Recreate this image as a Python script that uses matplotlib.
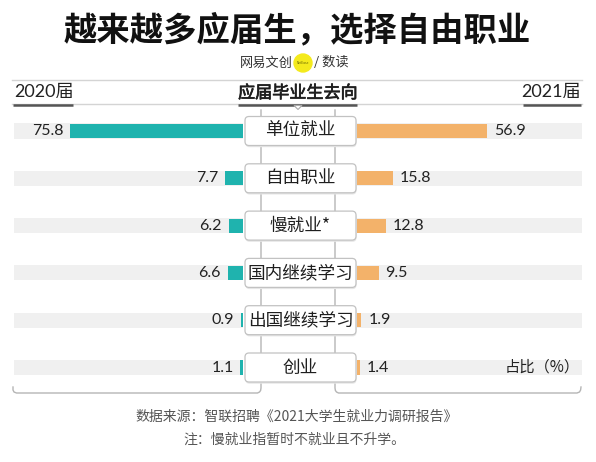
import matplotlib.pyplot as plt
import matplotlib.patheffects as pe
from matplotlib.patches import FancyBboxPatch, Circle, Polygon

plt.rcParams['font.family'] = ['Noto Sans CJK SC', 'DejaVu Sans']

# data
categories = ['单位就业', '自由职业', '慢就业*', '国内继续学习', '出国继续学习', '创业']
share_2020 = [75.8, 7.7, 6.2, 6.6, 0.9, 1.1]
share_2021 = [56.9, 15.8, 12.8, 9.5, 1.9, 1.4]

teal = '#1fb3ae'
orange = '#f3b26a'
band = '#f0f0f0'
W, H = 596, 462

# row layout in pixels
row_top, row_step = 131, 47.3
n = len(categories)
ax_top = row_top - row_step / 2
ax_h = row_step * n
px_per_unit = 2.28

fig = plt.figure(figsize=(W / 100, H / 100), dpi=100)


def frame(x0, x1):
    return [x0 / W, 1 - (ax_top + ax_h) / H, (x1 - x0) / W, ax_h / H]


# left (2020) bars, growing to the left
axl = fig.add_axes(frame(14, 243))
axl.set_xlim(229 / px_per_unit, 0)
# right (2021) bars
axr = fig.add_axes(frame(357, 582))
axr.set_xlim(0, 225 / px_per_unit)

rows = list(range(n))
for ax, vals, col, side in [(axl, share_2020, teal, -1), (axr, share_2021, orange, 1)]:
    xmax = max(ax.get_xlim())
    ax.barh(rows, [xmax] * n, height=0.32, color=band, zorder=0)
    ax.barh(rows, vals, height=0.30, color=col, zorder=1)
    for i, v in enumerate(vals):
        ax.annotate(f'{v}', (v, i), xytext=(side * 5, 0), textcoords='offset points',
                    ha='left' if side > 0 else 'right', va='center',
                    fontsize=11.5, color='#222222', family=['Lato', 'DejaVu Sans'])
    ax.set_ylim(n - 0.5, -0.5)
    ax.axis('off')

# overlay in pixel coordinates for the frame, labels and boxes
ov = fig.add_axes([0, 0, 1, 1], zorder=5)
ov.set_xlim(0, W)
ov.set_ylim(H, 0)
ov.axis('off')
ov.patch.set_alpha(0)

line_c = '#b5b5b5'
ov.plot([12, 582], [80, 80], color='#d4d4d4', lw=1)
ov.plot([12, 582], [104, 104], color='#d4d4d4', lw=1)
for x0, x1 in [(13, 73), (238, 357), (523, 581)]:
    ov.plot([x0, x1], [104.5, 104.5], color='#555555', lw=1.8, solid_capstyle='butt')
ov.add_patch(Polygon([(294, 105.5), (302, 105.5), (298, 109.5)], closed=True,
                     fc='white', ec='#aaaaaa', lw=0.8, zorder=3))

# connector lines and bottom brackets
ov.plot([13, 13, 14, 16.5, 257.5, 259.5, 260.6, 261, 261],
        [387, 390, 392, 393, 393, 392, 390.5, 388, 110], color=line_c, lw=1)
ov.plot([335, 335, 335.4, 336.5, 338.5, 577, 579.5, 580.6, 581],
        [110, 388, 390.5, 392, 393, 393, 392, 390, 387], color=line_c, lw=1)

# category boxes
for i, cat in enumerate(categories):
    yc = row_top + i * row_step
    ov.add_patch(FancyBboxPatch((245.5, yc - 14 + 1.2), 111, 29,
                                boxstyle='round,pad=0,rounding_size=4',
                                fc='#e6e6e6', ec='none', zorder=3))
    ov.add_patch(FancyBboxPatch((245, yc - 14.5), 111, 29,
                                boxstyle='round,pad=0,rounding_size=4',
                                fc='white', ec='#c2c2c2', lw=0.9, zorder=4))
    ov.text(300.5, yc, cat, ha='center', va='center', fontsize=12.7,
            color='#1e1e1e', zorder=5)

# headers
ov.text(14, 92, '2020届', ha='left', va='center', fontsize=13, color='#222222',
        family=['Lato', 'Noto Sans CJK SC'])
ov.text(581, 92, '2021届', ha='right', va='center', fontsize=13, color='#222222',
        family=['Lato', 'Noto Sans CJK SC'])
ov.text(298, 93, '应届毕业生去向', ha='center', va='center', fontsize=12.3,
        color='#1e1e1e',
        path_effects=[pe.withStroke(linewidth=0.5, foreground='#1e1e1e')])
ov.text(580, row_top + (n - 1) * row_step, '占比（%）', ha='right', va='center',
        fontsize=11, color='#222222')

# title and byline
ov.text(297, 30, '越来越多应届生，选择自由职业', ha='center', va='center',
        fontsize=24, weight='heavy', color='#111111')
ov.text(293, 63, '网易文创', ha='right', va='center', fontsize=9.5, color='#333333')
ov.add_patch(Circle((303, 63), 9, color='#f4ea1c', zorder=3))
ov.text(303, 63, 'NetEase', ha='center', va='center', fontsize=2.2, color='#666600',
        zorder=4, family='DejaVu Sans')
ov.text(314, 63, '/ 数读', ha='left', va='center', fontsize=9.5, color='#333333')

# footer
ov.text(297, 417, '数据来源：智联招聘《2021大学生就业力调研报告》', ha='center',
        va='center', fontsize=10, color='#555555')
ov.text(294, 440, '注：慢就业指暂时不就业且不升学。', ha='center', va='center',
        fontsize=10, color='#555555')

fig.savefig('out.png', dpi=100, facecolor='white')
